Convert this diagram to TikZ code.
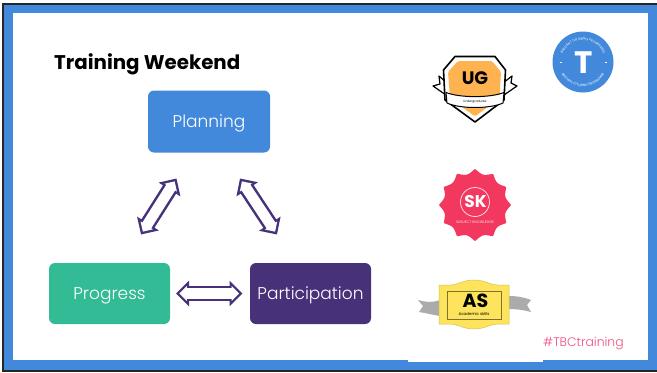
\documentclass[tikz,border=0pt]{standalone}
\usepackage{fontspec}
\setmainfont{Poppins}
\newfontfamily\lightfont{Poppins Light}
\usetikzlibrary{arrows.meta,decorations.text,calc}
\definecolor{tbcblue}{HTML}{4389DB}
\definecolor{tbcgreen}{HTML}{33BB96}
\definecolor{tbcpurple}{HTML}{47327A}
\definecolor{tbcorange}{HTML}{FFB350}
\definecolor{tbcred}{HTML}{F2385F}
\definecolor{tbcpink}{HTML}{F0507F}
\definecolor{tbcyellow}{HTML}{FDE45C}
\definecolor{tbcgrey}{HTML}{ABABAB}
\newcommand{\fs}[1]{\fontsize{#1bp}{#1bp}\selectfont}
\tikzset{
  box/.style={rounded corners=6bp,minimum width=122bp,minimum height=62bp,inner sep=0pt,text=white,font=\lightfont\fs{17},text height=12.5bp,text depth=0bp},
  arrowout/.style={draw=tbcpurple,line width=15.5bp,{Triangle[length=13bp,width=25bp]}-{Triangle[length=13bp,width=25bp]}},
  arrowin/.style={draw=white,line width=10.5bp,shorten >=3.4bp,shorten <=3.4bp,{Triangle[length=7.4bp,width=14.2bp]}-{Triangle[length=7.4bp,width=14.2bp]}},
}
\begin{document}
\begin{tikzpicture}[x=1bp,y=-1bp]
\useasboundingbox (0,0) rectangle (657,372);
\fill[white] (0,0) rectangle (657,372);
\fill[black!85] (1.5,3) rectangle (657,372);
\fill[tbcblue] (4,4.5) rectangle (657,370);
\fill[white] (13,13) rectangle (648,360);
\fill[white] (408,359) rectangle (543,361.5);
\node[anchor=base west,font=\fs{19.8}\bfseries,inner sep=0pt] (title) at (54,69) {Training Weekend};
\node[box,fill=tbcblue] (planning) at (209,121.5) {Planning};
\node[box,fill=tbcgreen,minimum width=121bp,minimum height=61bp] (progress) at (109.5,293.5) {Progress};
\node[box,fill=tbcpurple,minimum width=121bp,minimum height=61bp] (participation) at (310.5,293.5) {Participation};
\coordinate (a1) at (176.5,178.5);
\coordinate (a2) at (141,234.5);
\coordinate (b1) at (240,178.5);
\coordinate (b2) at (277,234.5);
\coordinate (c1) at (176,293.5);
\coordinate (c2) at (242.5,293.5);
\foreach \p/\q in {a1/a2,b1/b2,c1/c2}{
  \draw[arrowout] (\p) -- (\q);
  \draw[arrowin] (\p) -- (\q);
}
% T badge
\fill[tbcblue] (583,62) circle (30.5);
\node[font=\bfseries\fs{31},text=white,inner sep=0pt] (tletter) at (583.5,63) {T};
\path[postaction={decorate,decoration={text along path,text align=center,text={|\fs{3.2}\color{white}|BRILLIANT TUTORING PROGRAMME}}}] (561,62) arc[start angle=180,end angle=360,radius=22];
\path[postaction={decorate,decoration={text along path,text align=center,text={|\fs{3.2}\color{white}|BRILLIANT TUTORING PROGRAMME}}}] (558.5,62) arc[start angle=180,end angle=0,radius=24.5];
\draw[white,line width=.5bp] (559.5,62) -- (561.5,62) (604.5,62) -- (606.5,62);
% UG badge
\draw[black,line width=1.2bp,fill=white,line join=round] (446,95) -- (433,86) -- (440,84) -- (439,76) -- (447,83) -- cycle;
\draw[black,line width=1.2bp,fill=white,line join=round] (504,95) -- (517,86) -- (511,83) -- (512,76) -- (503,83) -- cycle;
\draw[black,line width=1.6bp,fill=white,line join=round] (455,56.5) -- (495,56.5) -- (505.5,70) -- (504,100) -- (475,122) -- (445,100) -- (443.5,70) -- cycle;
\fill[tbcorange,rounded corners=1.5bp] (458,61) -- (492,61) -- (501,72) -- (499.5,98) -- (475,116.5) -- (450,98) -- (448,72) -- cycle;
\draw[black,line width=1bp,fill=white] (446,92.5) .. controls (460,98) and (490,98) .. (504,92.5) -- (503,103) .. controls (490,109) and (460,109) .. (447,103) -- cycle;
\node[font=\bfseries\fs{18},inner sep=0pt] (ug) at (475,78.5) {UG};
\node[font=\fs{3},inner sep=0pt] (ugsub) at (475,101.5) {Undergraduate};
% SK badge
\begin{scope}[shift={(475,205)}]
\fill[tbcred] plot[domain=0:360,samples=361] (\x:{36-4.5*abs(sin(6*(\x-90)))}) -- cycle;
\end{scope}
\draw[white!80!tbcred,line width=.8bp] (475,202) circle (14.5);
\node[font=\bfseries\fs{17},text=white,inner sep=0pt] (sk) at (475.5,201) {SK};
\node[font=\fs{3.6},text=white!85!tbcred,inner sep=0pt] (sksub) at (475,222) {SUBJECT KNOWLEDGE};
% AS badge
\fill[tbcgrey] (440,300) .. controls (432,303) and (425,302) .. (418,300) -- (423,306) -- (419,312) .. controls (426,313) and (433,315) .. (440,316) -- cycle;
\fill[tbcgrey] (508,296) .. controls (516,296) and (524,297) .. (531,300) -- (527,305) -- (531,312) .. controls (524,310) and (516,309) .. (508,309) -- cycle;
\draw[tbcyellow!85!black,line width=.5bp,fill=tbcyellow] (439,285) -- (450,285) .. controls (458,285) and (463,280) .. (474,280) .. controls (485,280) and (490,285) .. (498,285) -- (509,285) -- (509,324) -- (498,324) .. controls (490,324) and (485,329) .. (474,329) .. controls (463,329) and (458,324) .. (450,324) -- (439,324) -- cycle;
\draw[black!50!tbcyellow,line width=.5bp] (447,291) -- (501,291) -- (501,319) -- (447,319) -- cycle;
\node[font=\bfseries\fs{19},inner sep=0pt] (as) at (475.5,300.5) {AS};
\node[font=\fs{4},inner sep=0pt] (assub) at (474,314) {Academic skills};
% hashtag
\node[anchor=base west,inner sep=0pt,text=tbcpink,font=\lightfont\fs{12.4}] (tag) at (543,346) {\#TBCtraining};
\end{tikzpicture}
\end{document}
